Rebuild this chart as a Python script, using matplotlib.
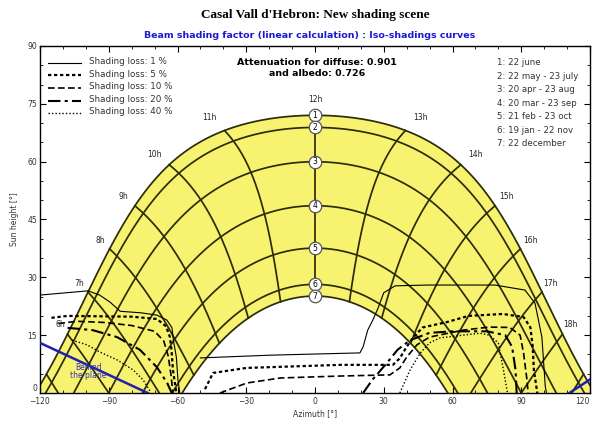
import numpy as np
import matplotlib
matplotlib.use("Agg")
import matplotlib.pyplot as plt

# ---------------- data ----------------
latitude = 41.42
date_labels = ["1: 22 june", "2: 22 may - 23 july", "3: 20 apr - 23 aug",
               "4: 20 mar - 23 sep", "5: 21 feb - 23 oct", "6: 19 jan - 22 nov",
               "7: 22 december"]
declinations = [23.44, 20.3, 11.4, 0.0, -11.0, -20.4, -23.44]
hours = [5, 6, 7, 8, 9, 10, 11, 12, 13, 14, 15, 16, 17, 18, 19]
hour_labels = ["6h", "7h", "8h", "9h", "10h", "11h", "12h", "13h", "14h", "15h", "16h", "17h", "18h"]
hour_label_values = [6, 7, 8, 9, 10, 11, 12, 13, 14, 15, 16, 17, 18]

loss_labels = ["Shading loss: 1 %", "Shading loss: 5 %", "Shading loss: 10 %",
               "Shading loss: 20 %", "Shading loss: 40 %"]

# iso-shading curves (azimuth, height)
loss1_left = [(-120, 25.4), (-99, 26.5), (-94, 25.4), (-89.5, 23.6), (-85, 21.2), (-76, 20.8),
              (-69, 20.2), (-64.6, 18.9), (-62.4, 16.9), (-61.8, 13.7), (-60.5, 9.3),
              (-59.8, 3.4), (-59, 0)]
loss5_left = [(-115, 19.5), (-108, 20.0), (-94, 19.9), (-80, 19.8), (-69, 19.2), (-65, 17.3),
              (-63.3, 14.5), (-62.6, 11), (-62, 6), (-60.5, 0)]
loss10_left = [(-112, 18.0), (-104, 18.6), (-92, 18.3), (-80, 17.5), (-70, 16), (-66, 13.5),
               (-64, 9.5), (-62.8, 4.5), (-62, 0)]
loss20_left = [(-108, 16.9), (-97, 16.3), (-86.4, 14.5), (-76.4, 11.2), (-69, 6.7),
               (-64.5, 2.6), (-62.5, 0)]
loss40_left = [(-106, 13.7), (-99.5, 12.5), (-93.8, 10.6), (-86.4, 8.6), (-79.4, 6),
               (-75, 3.4), (-72, 0.5)]

loss1_right = [(-50, 9.1), (-20, 9.8), (6, 10.2), (19.6, 10.4), (21, 12), (23, 16.3), (25.3, 19),
               (27.5, 22), (30, 26), (35, 27.8), (49, 28), (78.5, 28), (91.6, 26.7), (96, 23.3),
               (99, 14.5), (100.5, 1.6), (101, 0)]
loss5_right = [(-48, 1), (-44.5, 5.2), (-30, 6.5), (11, 7.3), (34, 7.3), (37, 9), (40, 12),
               (43, 14.5), (47, 17), (57.6, 18.4), (67, 20), (82, 20.5), (91, 19.7), (94, 17),
               (95, 12), (95.5, 6), (97, 0)]
loss10_right = [(-41.5, 0), (-29.7, 2.6), (-15, 3.9), (11, 4.4), (32.7, 4.7), (37, 6.5), (40, 9.3),
                (44.5, 12.5), (50, 14.5), (64.6, 16.3), (76, 17.1), (85, 17), (89.5, 15),
                (91, 10.4), (92.5, 3.4), (93, 0)]
loss20_right = [(21, 0), (25, 3.4), (31.4, 7.8), (36, 11.2), (41.5, 13.7), (50, 15.6), (60, 16),
                (75, 16), (83, 15), (86, 12), (87.5, 6), (88, 0)]
loss40_right = [(37, 0), (41.5, 6), (46, 10.4), (50, 13), (54.5, 14.3), (64.6, 15), (72, 15.5),
                (76, 15), (80, 13), (82, 6.7), (84, 0)]

behind_left = [(-120, 13.0), (-73, 0.0)]
behind_right = [(111, 0.0), (120, 3.5)]

# ---------------- helpers ----------------
def sunpos(lat, dec, H):
    la, de, h = np.radians(lat), np.radians(dec), np.radians(H)
    alt = np.degrees(np.arcsin(np.sin(la) * np.sin(de) + np.cos(la) * np.cos(de) * np.cos(h)))
    az = np.degrees(np.arctan2(np.sin(h) * np.cos(de),
                               np.cos(h) * np.cos(de) * np.sin(la) - np.sin(de) * np.cos(la)))
    return az, alt

def path(dec):
    H = np.linspace(-180, 180, 1441)
    az, alt = sunpos(latitude, dec, H)
    m = alt >= 0
    return az[m], alt[m]

# ---------------- figure ----------------
fig = plt.figure(figsize=(5.95, 4.25), dpi=100)
ax = fig.add_axes([40 / 595, 32 / 425, 550 / 595, 347 / 425])
ax.set_xlim(-120, 120)
ax.set_ylim(0, 90)

grid_col = "#2c2c08"
fill_col = "#F7F270"

# yellow zone between summer and winter paths
az_s, alt_s = path(declinations[0])
az_w, alt_w = path(declinations[-1])
poly_x = np.concatenate([az_s, az_w[::-1]])
poly_y = np.concatenate([alt_s, alt_w[::-1]])
ax.fill(poly_x, poly_y, color=fill_col, zorder=1, lw=0)

# date lines
for d in declinations:
    a, h = path(d)
    ax.plot(a, h, color=grid_col, lw=1.25, zorder=2)

# hour lines
dec_range = np.linspace(declinations[-1], declinations[0], 200)
for hr in hours:
    a, h = sunpos(latitude, dec_range, (hr - 12) * 15)
    m = h >= 0
    ax.plot(a[m], h[m], color=grid_col, lw=1.25, zorder=2)

# hour labels
for lab, hv in zip(hour_labels, hour_label_values):
    a, h = sunpos(latitude, declinations[0] + 4.0, (hv - 12) * 15)
    ax.text(a, h, lab, fontsize=5.5, ha="center", va="center", color="#222222", zorder=5)

# date circles at noon
for i, d in enumerate(declinations):
    a, h = sunpos(latitude, d, 0.0)
    ax.plot(a, h, "o", ms=9, mfc="white", mec="#555555", mew=0.9, zorder=6)
    ax.text(a, h, str(i + 1), fontsize=5.5, ha="center", va="center", zorder=7)

# iso-shading curves
styles = [dict(ls="-", lw=0.8),
          dict(ls=(0, (1.5, 1.2)), lw=1.6),
          dict(ls=(0, (4, 2)), lw=1.2),
          dict(ls=(0, (6, 2, 1.5, 2)), lw=1.5),
          dict(ls=(0, (1, 1.5)), lw=1.0)]
left_curves = [loss1_left, loss5_left, loss10_left, loss20_left, loss40_left]
right_curves = [loss1_right, loss5_right, loss10_right, loss20_right, loss40_right]
for st, cl, cr in zip(styles, left_curves, right_curves):
    for c in (cl, cr):
        xs = [p[0] for p in c]
        ys = [p[1] for p in c]
        ax.plot(xs, ys, color="black", zorder=4, **st)

# behind the plane
for seg in (behind_left, behind_right):
    ax.plot([p[0] for p in seg], [p[1] for p in seg], color="#2020b0", lw=1.8, zorder=5)
ax.text(-99, 5.5, "Behind\nthe plane", color="#3030c0", fontsize=5.5, ha="center",
        va="center", linespacing=0.9, zorder=5)

# legend of shading losses
for i, (lab, st) in enumerate(zip(loss_labels, styles)):
    y = 85.6 - i * 3.25
    ax.plot([-116.5, -102], [y, y], color="black", zorder=5, **st)
    ax.text(-98.5, y + 0.3, lab, fontsize=6.3, va="center", ha="left", color="#333333")

# date legend
for i, lab in enumerate(date_labels):
    ax.text(79.5, 85.6 - i * 3.5, lab, fontsize=6.2, va="center", ha="left", color="#333333")

ax.text(1, 84.3, "Attenuation for diffuse: 0.901\nand albedo: 0.726", fontsize=6.8,
        fontweight="bold", ha="center", va="center", linespacing=1.35)

# ticks
ax.set_xticks([-120, -90, -60, -30, 0, 30, 60, 90, 120])
ax.set_xticks(np.arange(-120, 121, 10), minor=True)
ax.set_yticks([0, 15, 30, 45, 60, 75, 90])
ax.set_yticks(np.arange(0, 91, 5), minor=True)
ax.tick_params(which="both", direction="in", top=True, right=True, labelsize=5.5,
               labelcolor="#333333", pad=2)
ax.tick_params(which="major", length=4, width=0.8)
ax.tick_params(which="minor", length=2, width=0.6)
ax.tick_params(axis="x", which="major", pad=3)
xl = ax.get_xticklabels()
xl[-1].set_horizontalalignment("right")
yl = ax.get_yticklabels()
yl[0].set_verticalalignment("bottom")
for s in ax.spines.values():
    s.set_linewidth(1.0)

ax.set_xlabel("Azimuth [°]", fontsize=5.5, labelpad=2, color="#333333")
ax.set_ylabel("Sun height [°]", fontsize=5.5, labelpad=6, color="#333333")

fig.text(0.53, 0.965, "Casal Vall d'Hebron: New shading scene", fontsize=9.5,
         fontweight="bold", family="Liberation Serif", ha="center", va="center")
fig.text(0.52, 0.917, "Beam shading factor (linear calculation) : Iso-shadings curves",
         fontsize=6.8, fontweight="bold", color="#1a1ad0", ha="center", va="center")

fig.savefig("out.png", dpi=100)
